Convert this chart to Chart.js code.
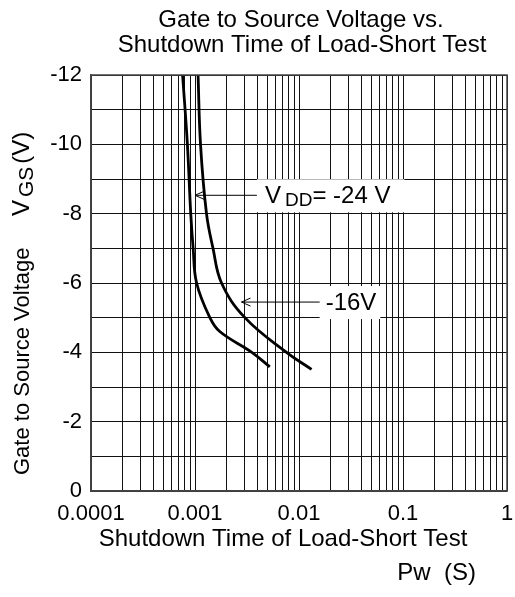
<!DOCTYPE html>
<html>
<head>
<meta charset="utf-8">
<script src="https://cdn.jsdelivr.net/npm/chart.js@4.4.0/dist/chart.umd.min.js"></script>
<style>
  html, body { margin: 0; padding: 0; background: #fff; }
</style>
</head>
<body>
<canvas id="chartCanvas" width="515" height="597"></canvas>
<script>
// tick labels
const decades = [0.0001, 0.001, 0.01, 0.1, 1];
const decadeLabels = ['0.0001', '0.001', '0.01', '0.1', '1'];

// VDD = -24 V curve (Pw in s, VGS in V)
const pw24 = [7.6e-4, 8.45e-4, 9.1e-4, 9.6e-4, 1.036e-3, 1.39e-3, 1.73e-3, 3.52e-3, 5.24e-3];
const vgs24 = [-12, -10, -8, -7, -6, -5, -4.6, -4.0, -3.58];

// VDD = -16 V curve
const pw16 = [1.07e-3, 1.13e-3, 1.29e-3, 1.49e-3, 1.8e-3, 3.02e-3, 7.59e-3, 1.32e-2];
const vgs16 = [-12, -10, -8, -7, -6, -5, -4, -3.51];

const titleLines = ['Gate to Source Voltage vs.', 'Shutdown Time of Load-Short Test'];

const FONT = '"Liberation Sans", Arial, sans-serif';

// grid lines at 1..9 x each decade
let xGrid = [];
for (let d = 0; d < decades.length - 1; d++) {
    for (let k = 1; k < 10; k++) xGrid.push(k * decades[d]);
}
xGrid.push(1);

function pts(xs, ys) {
    return xs.map((x, i) => ({ x: x, y: ys[i] }));
}

// text made of pieces (for subscripts), drawn from x,y on the baseline
function drawParts(ctx, parts, x, y) {
    for (const p of parts) {
        ctx.font = p.size + 'px ' + FONT;
        ctx.fillText(p.t, x, y + (p.dy || 0));
        x += ctx.measureText(p.t).width + (p.gap || 0);
    }
    return x;
}
function partsWidth(ctx, parts) {
    let w = 0;
    for (const p of parts) {
        ctx.font = p.size + 'px ' + FONT;
        w += ctx.measureText(p.t).width + (p.gap || 0);
    }
    return w;
}

// arrow notes: label left edge / arrow tip in data units
const notes = [
    { parts: [{ t: 'V', size: 24, gap: 4 }, { t: 'DD', size: 19, dy: 3 }, { t: '= -24 V', size: 24 }],
      x: 3.94e-3, y: -8.53, tipX: 1.0e-3, pad: 8, padR: 14 },
    { parts: [{ t: '-16V', size: 24 }], x: 1.58e-2, y: -5.45, tipX: 2.8e-3, pad: 6, padR: 4 }
];

const textPlugin = {
    id: 'texts',
    afterDatasetsDraw(chart) {
        const ctx = chart.ctx;
        const xs = chart.scales.x, ys = chart.scales.y;
        ctx.save();
        ctx.strokeStyle = '#000';
        for (const n of notes) {
            const lx = xs.getPixelForValue(n.x);
            const ly = ys.getPixelForValue(n.y);
            const tx = xs.getPixelForValue(n.tipX);
            const w = partsWidth(ctx, n.parts);
            ctx.fillStyle = '#fff';
            ctx.fillRect(lx, ly - 16, w + n.pad + n.padR, 33);
            ctx.fillStyle = '#000';
            ctx.textAlign = 'left';
            ctx.textBaseline = 'alphabetic';
            drawParts(ctx, n.parts, lx + n.pad, ly + 8);
            ctx.lineWidth = 1;
            ctx.beginPath();
            ctx.moveTo(lx, ly);
            ctx.lineTo(tx, ly);
            ctx.moveTo(tx + 9, ly - 4);
            ctx.lineTo(tx, ly);
            ctx.lineTo(tx + 9, ly + 4);
            ctx.stroke();
        }
        ctx.restore();
    },
    afterDraw(chart) {
        const ctx = chart.ctx;
        const a = chart.chartArea;
        ctx.save();
        // frame
        ctx.strokeStyle = '#444';
        ctx.lineWidth = 1.5;
        ctx.strokeRect(a.left, a.top, a.right - a.left, a.bottom - a.top);

        ctx.fillStyle = '#000';
        ctx.textBaseline = 'alphabetic';
        // chart title
        ctx.font = '24px ' + FONT;
        ctx.textAlign = 'center';
        ctx.fillText(titleLines[0], 301, 27);
        ctx.fillText(titleLines[1], 302, 52);

        // x axis title
        ctx.fillText('Shutdown Time of Load-Short Test', 283, 546);
        ctx.textAlign = 'right';
        ctx.fillText('Pw  (S)', 476, 580);

        // y axis title, rotated
        ctx.textAlign = 'left';
        ctx.save();
        ctx.translate(29, 475);
        ctx.rotate(-Math.PI / 2);
        ctx.font = '22px ' + FONT;
        ctx.fillText('Gate to Source Voltage', 0, 0);
        ctx.restore();
        ctx.save();
        ctx.translate(29, 216);
        ctx.rotate(-Math.PI / 2);
        drawParts(ctx, [{ t: 'V', size: 24, gap: 3 }, { t: 'GS', size: 21, dy: 4, gap: 3 }, { t: '(V)', size: 24 }], 0, 0);
        ctx.restore();
        ctx.restore();
    }
};

const chart = new Chart('chartCanvas', {
    type: 'line',
    data: {
        datasets: [
            { data: pts(pw24, vgs24), borderColor: '#000', borderWidth: 2.8, pointRadius: 0,
              tension: 0.4, fill: false },
            { data: pts(pw16, vgs16), borderColor: '#000', borderWidth: 2.8, pointRadius: 0,
              tension: 0.4, fill: false }
        ]
    },
    options: {
        responsive: false,
        animation: false,
        devicePixelRatio: 1,
        layout: { padding: { top: 75, right: 8, left: 0, bottom: 0 } },
        plugins: { legend: { display: false }, tooltip: { enabled: false }, title: { display: false } },
        scales: {
            x: {
                type: 'logarithmic',
                min: 0.0001,
                max: 1,
                afterBuildTicks: (s) => { s.ticks = xGrid.map(v => ({ value: v })); },
                afterFit: (s) => { s.height = 106; s.paddingLeft = 0; s.paddingRight = 0; },
                ticks: {
                    autoSkip: false,
                    maxRotation: 0,
                    padding: 10,
                    color: '#000',
                    font: { family: FONT, size: 22 },
                    callback: (v) => {
                        const i = decades.indexOf(v);
                        return i >= 0 ? decadeLabels[i] : '';
                    }
                },
                grid: { color: '#111', lineWidth: 1, drawTicks: false },
                border: { color: '#444', width: 1.5 }
            },
            y: {
                type: 'linear',
                min: -12,
                max: 0,
                reverse: true,
                afterFit: (s) => { s.width = 91; },
                ticks: {
                    stepSize: 1,
                    autoSkip: false,
                    padding: 9,
                    color: '#000',
                    font: { family: FONT, size: 22 },
                    callback: (v) => (v % 2 === 0 ? String(v) : '')
                },
                grid: { color: '#111', lineWidth: 1, drawTicks: false },
                border: { color: '#444', width: 1.5 }
            }
        }
    },
    plugins: [textPlugin]
});
</script>
</body>
</html>
